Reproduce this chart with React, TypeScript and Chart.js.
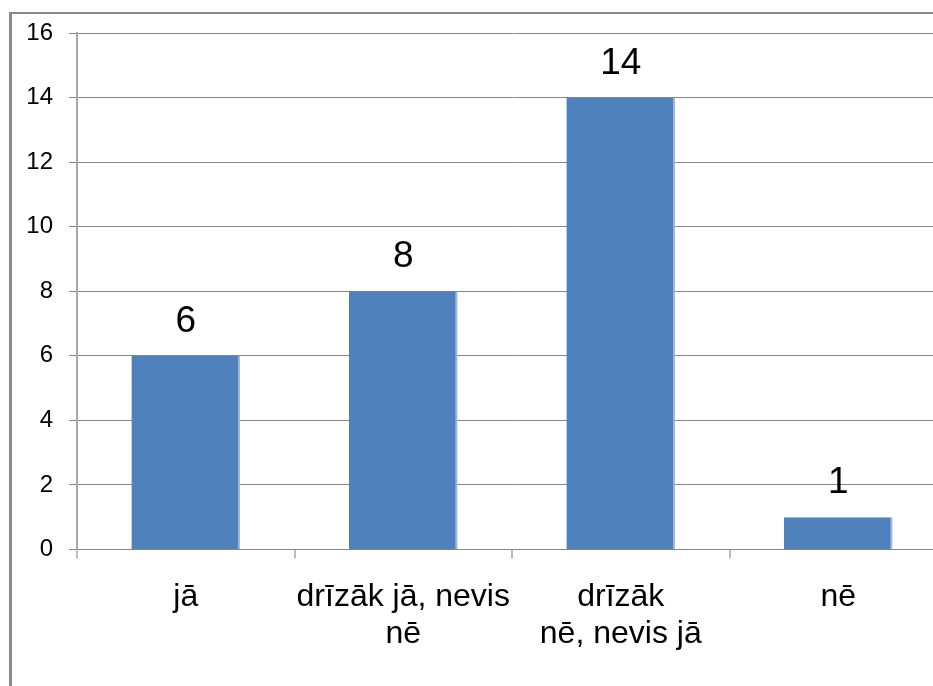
import React, { useEffect, useRef } from "react";
import { Chart, registerables } from "chart.js";

Chart.register(...registerables);

const categories: string[][] = [["jā"], ["drīzāk jā, nevis", "nē"], ["drīzāk", "nē, nevis jā"], ["nē"]];
const values: number[] = [6, 8, 14, 1];
const yTicks: number[] = [0, 2, 4, 6, 8, 10, 12, 14, 16];

const FONT = "'Liberation Sans', Arial, sans-serif";

const valueLabels = {
  id: "valueLabels",
  afterDatasetsDraw(chart: any) {
    const ctx = chart.ctx;
    const meta = chart.getDatasetMeta(0);
    ctx.save();
    ctx.font = `37px ${FONT}`;
    ctx.fillStyle = "#000";
    ctx.textAlign = "center";
    ctx.textBaseline = "middle";
    meta.data.forEach((bar: any, i: number) => {
      ctx.fillText(String(values[i]), bar.x, bar.y - 34);
    });
    ctx.restore();
  },
};

export default function App() {
  const ref = useRef<HTMLCanvasElement | null>(null);
  useEffect(() => {
    document.body.style.margin = "0";
    document.body.style.overflow = "hidden";
    const canvas = ref.current!;
    const chart = new Chart(canvas, {
      type: "bar",
      data: {
        labels: categories,
        datasets: [
          {
            data: values,
            backgroundColor: "#4F81BD",
            borderColor: "#9db8de",
            borderWidth: { top: 0, left: 0, bottom: 0, right: 2 } as any,
            borderSkipped: false as any,
            categoryPercentage: 1,
            barPercentage: 0.5,
          },
        ],
      },
      options: {
        responsive: false,
        animation: false,
        devicePixelRatio: 1,
        layout: { padding: { top: 33, left: 0, right: 13, bottom: 0 } },
        plugins: { legend: { display: false }, tooltip: { enabled: false } },
        scales: {
          x: {
            grid: {
              offset: true,
              drawOnChartArea: false,
              drawTicks: true,
              tickLength: 9,
              color: "#bdbdbd",
              lineWidth: 2,
            },
            border: { color: "#878787", width: 1 },
            ticks: {
              color: "#000",
              font: { family: FONT, size: 32, lineHeight: 1.15 },
              padding: 20,
              maxRotation: 0,
              autoSkip: false,
            },
            afterFit(scale: any) {
              scale.height = 136.5;
            },
          },
          y: {
            min: 0,
            max: 16,
            afterBuildTicks(scale: any) {
              scale.ticks = yTicks.map((v) => ({ value: v }));
            },
            grid: {
              color: "#878787",
              lineWidth: 1,
              tickLength: 8,
              drawTicks: true,
            },
            border: { color: "#a8a8a8", width: 2 },
            ticks: {
              color: "#000",
              font: { family: FONT, size: 24 },
              padding: 16,
            },
            afterFit(scale: any) {
              scale.width = 77;
            },
          },
        },
      },
      plugins: [valueLabels],
    });
    return () => chart.destroy();
  }, []);

  return (
    <div style={{ position: "relative", width: 933, height: 686, overflow: "hidden", background: "#fff" }}>
      <canvas ref={ref} width={960} height={686} style={{ position: "absolute", left: 0, top: 0, width: 960, height: 686 }} />
      <div
        style={{
          position: "absolute",
          left: 9,
          top: 12,
          width: 1000,
          height: 1000,
          borderLeft: "3px solid #8a8a8a",
          borderTop: "2px solid #8a8a8a",
          pointerEvents: "none",
        }}
      />
    </div>
  );
}
